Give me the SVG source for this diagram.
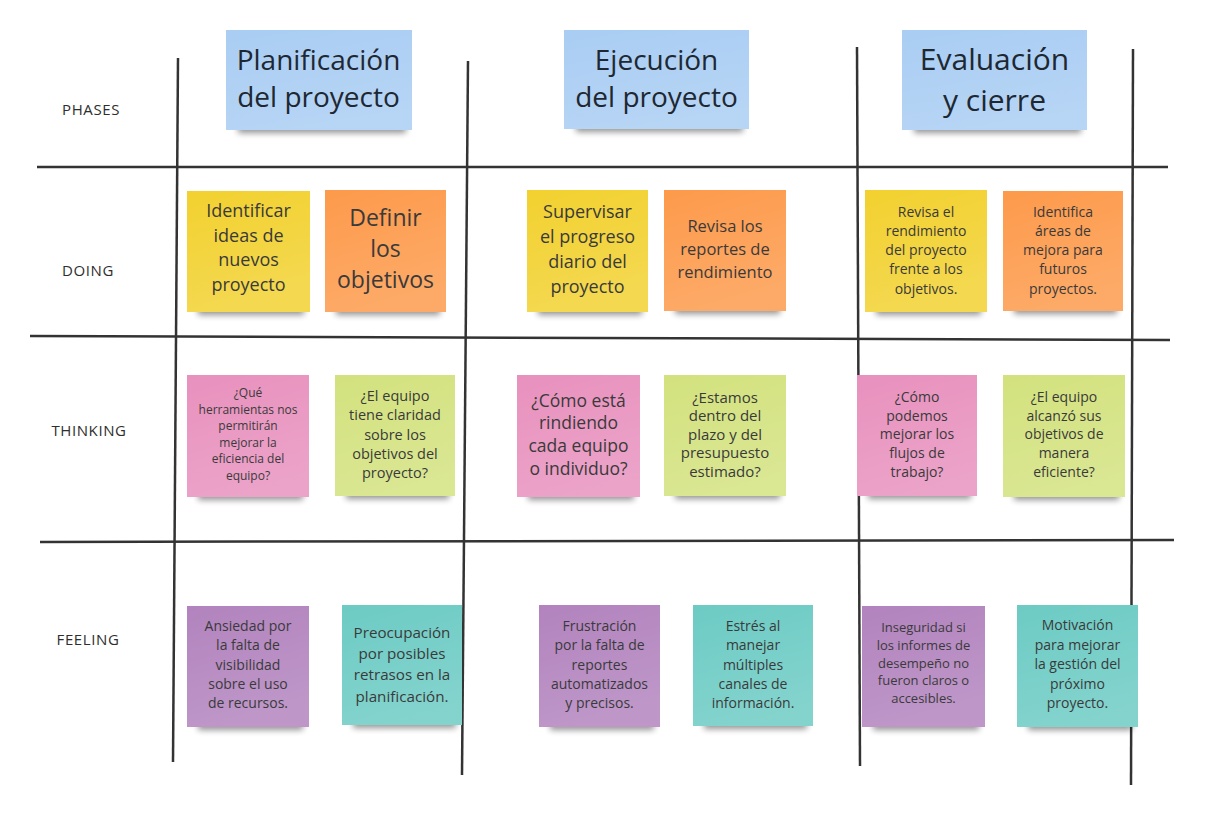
<svg xmlns="http://www.w3.org/2000/svg" width="1219" height="820" viewBox="0 0 1219 820">
  <defs>
    <filter id="soft" x="-20%" y="-100%" width="140%" height="300%">
      <feGaussianBlur stdDeviation="3"/>
    </filter>
    <linearGradient id="sheen" x1="0" y1="0" x2="0.3" y2="1">
      <stop offset="0" stop-color="#fff" stop-opacity="0"/>
      <stop offset="1" stop-color="#fff" stop-opacity="0.16"/>
    </linearGradient>
  </defs>
  <style>
    .grid { stroke: #333; stroke-width: 2.5; fill: none; stroke-linecap: butt; }
    .row { font-family: "Open Sans", "Liberation Sans", sans-serif; font-size: 15px; letter-spacing: 0.6px; fill: #2e2e2e; text-anchor: middle; }
    .shadow { fill: #000; opacity: 0.42; filter: url(#soft); }
    .sheen { fill: url(#sheen); }
    .txt { font-family: "Open Sans", "Liberation Sans", sans-serif; fill: #3a3a3a; text-anchor: middle; }
    .hdr { font-family: "Open Sans", "Liberation Sans", sans-serif; fill: #1e2832; text-anchor: middle; }
    .blue { fill: #a9cdf3; }
    .yellow { fill: #f2d12f; }
    .orange { fill: #fd9a4b; }
    .pink { fill: #e891be; }
    .green { fill: #d3e27e; }
    .purple { fill: #b283be; }
    .teal { fill: #6ccbc4; }
  </style>

  <rect width="1219" height="820" fill="#fff"/>

  <!-- board grid -->
  <g id="connectors">
    <line class="grid" x1="178" y1="58" x2="173" y2="762"/>
    <line class="grid" x1="468" y1="61" x2="462" y2="775"/>
    <line class="grid" x1="857" y1="47" x2="860" y2="766"/>
    <line class="grid" x1="1133" y1="49" x2="1131" y2="785"/>
    <line class="grid" x1="37" y1="167" x2="1168" y2="167"/>
    <line class="grid" x1="30" y1="336" x2="1170" y2="340"/>
    <line class="grid" x1="40" y1="542" x2="1174" y2="540"/>
  </g>

  <!-- row labels -->
  <g id="row-labels">
    <text class="row" x="91" y="115">PHASES</text>
    <text class="row" x="88" y="276">DOING</text>
    <text class="row" x="89" y="436">THINKING</text>
    <text class="row" x="88" y="645">FEELING</text>
  </g>

  <!-- phase headers -->
  <g id="hdr-planificacion">
    <rect class="shadow" x="238" y="122" width="168" height="11"/>
    <rect class="blue" x="226" y="30" width="186" height="100"/>
    <rect class="sheen" x="226" y="30" width="186" height="100"/>
    <text class="hdr" font-size="28"><tspan x="318.5" y="70">Planificación</tspan><tspan x="318.5" y="107">del proyecto</tspan></text>
  </g>
  <g id="hdr-ejecucion">
    <rect class="shadow" x="576" y="121" width="167" height="11"/>
    <rect class="blue" x="564" y="30" width="185" height="99"/>
    <rect class="sheen" x="564" y="30" width="185" height="99"/>
    <text class="hdr" font-size="28"><tspan x="656.5" y="70">Ejecución</tspan><tspan x="656.5" y="107">del proyecto</tspan></text>
  </g>
  <g id="hdr-evaluacion">
    <rect class="shadow" x="914" y="122" width="167" height="11"/>
    <rect class="blue" x="902" y="30" width="185" height="100"/>
    <rect class="sheen" x="902" y="30" width="185" height="100"/>
    <text class="hdr" font-size="30"><tspan x="994.5" y="69.5">Evaluación</tspan><tspan x="994.5" y="110.5">y cierre</tspan></text>
  </g>

  <!-- DOING row -->
  <g id="doing-1">
    <rect class="shadow" x="198" y="304" width="106" height="11"/>
    <rect class="yellow" x="187" y="191" width="123" height="121"/>
    <rect class="sheen" x="187" y="191" width="123" height="121"/>
    <text class="txt" font-size="18"><tspan x="248.5" y="217">Identificar</tspan><tspan x="248.5" y="241.7">ideas de</tspan><tspan x="248.5" y="266.4">nuevos</tspan><tspan x="248.5" y="291">proyecto</tspan></text>
  </g>
  <g id="doing-2">
    <rect class="shadow" x="336" y="304" width="104" height="11"/>
    <rect class="orange" x="325" y="190" width="121" height="122"/>
    <rect class="sheen" x="325" y="190" width="121" height="122"/>
    <text class="txt" font-size="23"><tspan x="385.5" y="226">Definir</tspan><tspan x="385.5" y="257">los</tspan><tspan x="385.5" y="288">objetivos</tspan></text>
  </g>
  <g id="doing-3">
    <rect class="shadow" x="538" y="304" width="104" height="11"/>
    <rect class="yellow" x="527" y="190" width="121" height="122"/>
    <rect class="sheen" x="527" y="190" width="121" height="122"/>
    <text class="txt" font-size="18"><tspan x="587.5" y="218">Supervisar</tspan><tspan x="587.5" y="243">el progreso</tspan><tspan x="587.5" y="268">diario del</tspan><tspan x="587.5" y="292.5">proyecto</tspan></text>
  </g>
  <g id="doing-4">
    <rect class="shadow" x="675" y="303" width="105" height="11"/>
    <rect class="orange" x="664" y="190" width="122" height="121"/>
    <rect class="sheen" x="664" y="190" width="122" height="121"/>
    <text class="txt" font-size="16.5"><tspan x="725" y="232">Revisa los</tspan><tspan x="725" y="255">reportes de</tspan><tspan x="725" y="278">rendimiento</tspan></text>
  </g>
  <g id="doing-5">
    <rect class="shadow" x="876" y="304" width="105" height="11"/>
    <rect class="yellow" x="865" y="190" width="122" height="122"/>
    <rect class="sheen" x="865" y="190" width="122" height="122"/>
    <text class="txt" font-size="14"><tspan x="926" y="216.5">Revisa el</tspan><tspan x="926" y="235.8">rendimiento</tspan><tspan x="926" y="255.1">del proyecto</tspan><tspan x="926" y="274.4">frente a los</tspan><tspan x="926" y="293.7">objetivos.</tspan></text>
  </g>
  <g id="doing-6">
    <rect class="shadow" x="1014" y="303" width="103" height="11"/>
    <rect class="orange" x="1003" y="191" width="120" height="120"/>
    <rect class="sheen" x="1003" y="191" width="120" height="120"/>
    <text class="txt" font-size="14"><tspan x="1063" y="216.5">Identifica</tspan><tspan x="1063" y="235.8">áreas de</tspan><tspan x="1063" y="255.1">mejora para</tspan><tspan x="1063" y="274.4">futuros</tspan><tspan x="1063" y="293.7">proyectos.</tspan></text>
  </g>

  <!-- THINKING row -->
  <g id="thinking-1">
    <rect class="shadow" x="198" y="489" width="105" height="11"/>
    <rect class="pink" x="187" y="375" width="122" height="122"/>
    <rect class="sheen" x="187" y="375" width="122" height="122"/>
    <text class="txt" font-size="12"><tspan x="248" y="397">¿Qué</tspan><tspan x="248" y="413.5">herramientas nos</tspan><tspan x="248" y="430">permitirán</tspan><tspan x="248" y="446.5">mejorar la</tspan><tspan x="248" y="463">eficiencia del</tspan><tspan x="248" y="479.5">equipo?</tspan></text>
  </g>
  <g id="thinking-2">
    <rect class="shadow" x="346" y="488" width="103" height="11"/>
    <rect class="green" x="335" y="375" width="120" height="121"/>
    <rect class="sheen" x="335" y="375" width="120" height="121"/>
    <text class="txt" font-size="14.5"><tspan x="395" y="401">¿El equipo</tspan><tspan x="395" y="420.3">tiene claridad</tspan><tspan x="395" y="439.6">sobre los</tspan><tspan x="395" y="458.9">objetivos del</tspan><tspan x="395" y="478.2">proyecto?</tspan></text>
  </g>
  <g id="thinking-3">
    <rect class="shadow" x="528" y="489" width="106" height="11"/>
    <rect class="pink" x="517" y="375" width="123" height="122"/>
    <rect class="sheen" x="517" y="375" width="123" height="122"/>
    <text class="txt" font-size="17.5"><tspan x="578.5" y="406.5">¿Cómo está</tspan><tspan x="578.5" y="429.3">rindiendo</tspan><tspan x="578.5" y="452.1">cada equipo</tspan><tspan x="578.5" y="475">o individuo?</tspan></text>
  </g>
  <g id="thinking-4">
    <rect class="shadow" x="675" y="488" width="105" height="11"/>
    <rect class="green" x="664" y="375" width="122" height="121"/>
    <rect class="sheen" x="664" y="375" width="122" height="121"/>
    <text class="txt" font-size="15"><tspan x="725" y="403">¿Estamos</tspan><tspan x="725" y="421.4">dentro del</tspan><tspan x="725" y="439.8">plazo y del</tspan><tspan x="725" y="458.2">presupuesto</tspan><tspan x="725" y="476.6">estimado?</tspan></text>
  </g>
  <g id="thinking-5">
    <rect class="shadow" x="868" y="488" width="103" height="11"/>
    <rect class="pink" x="857" y="375" width="120" height="121"/>
    <rect class="sheen" x="857" y="375" width="120" height="121"/>
    <text class="txt" font-size="14"><tspan x="917" y="401.7">¿Cómo</tspan><tspan x="917" y="420.5">podemos</tspan><tspan x="917" y="439.2">mejorar los</tspan><tspan x="917" y="458">flujos de</tspan><tspan x="917" y="476.7">trabajo?</tspan></text>
  </g>
  <g id="thinking-6">
    <rect class="shadow" x="1014" y="489" width="105" height="11"/>
    <rect class="green" x="1003" y="375" width="122" height="122"/>
    <rect class="sheen" x="1003" y="375" width="122" height="122"/>
    <text class="txt" font-size="14"><tspan x="1064" y="401.7">¿El equipo</tspan><tspan x="1064" y="420.5">alcanzó sus</tspan><tspan x="1064" y="439.2">objetivos de</tspan><tspan x="1064" y="458">manera</tspan><tspan x="1064" y="476.7">eficiente?</tspan></text>
  </g>

  <!-- FEELING row -->
  <g id="feeling-1">
    <rect class="shadow" x="198" y="719" width="105" height="11"/>
    <rect class="purple" x="187" y="606" width="122" height="121"/>
    <rect class="sheen" x="187" y="606" width="122" height="121"/>
    <text class="txt" font-size="14"><tspan x="248" y="631">Ansiedad por</tspan><tspan x="248" y="650.3">la falta de</tspan><tspan x="248" y="669.6">visibilidad</tspan><tspan x="248" y="688.9">sobre el uso</tspan><tspan x="248" y="708.2">de recursos.</tspan></text>
  </g>
  <g id="feeling-2">
    <rect class="shadow" x="353" y="717" width="103" height="11"/>
    <rect class="teal" x="342" y="605" width="120" height="120"/>
    <rect class="sheen" x="342" y="605" width="120" height="120"/>
    <text class="txt" font-size="15.2"><tspan x="402" y="638">Preocupación</tspan><tspan x="402" y="659.2">por posibles</tspan><tspan x="402" y="680.4">retrasos en la</tspan><tspan x="402" y="701.6">planificación.</tspan></text>
  </g>
  <g id="feeling-3">
    <rect class="shadow" x="550" y="719" width="104" height="11"/>
    <rect class="purple" x="539" y="605" width="121" height="122"/>
    <rect class="sheen" x="539" y="605" width="121" height="122"/>
    <text class="txt" font-size="14"><tspan x="599.5" y="631">Frustración</tspan><tspan x="599.5" y="650.3">por la falta de</tspan><tspan x="599.5" y="669.6">reportes</tspan><tspan x="599.5" y="688.9">automatizados</tspan><tspan x="599.5" y="708.2">y precisos.</tspan></text>
  </g>
  <g id="feeling-4">
    <rect class="shadow" x="704" y="718" width="103" height="11"/>
    <rect class="teal" x="693" y="605" width="120" height="121"/>
    <rect class="sheen" x="693" y="605" width="120" height="121"/>
    <text class="txt" font-size="14"><tspan x="753" y="631">Estrés al</tspan><tspan x="753" y="650.3">manejar</tspan><tspan x="753" y="669.6">múltiples</tspan><tspan x="753" y="688.9">canales de</tspan><tspan x="753" y="708.2">información.</tspan></text>
  </g>
  <g id="feeling-5">
    <rect class="shadow" x="873" y="719" width="106" height="11"/>
    <rect class="purple" x="862" y="606" width="123" height="121"/>
    <rect class="sheen" x="862" y="606" width="123" height="121"/>
    <text class="txt" font-size="13"><tspan x="923.5" y="631.7">Inseguridad si</tspan><tspan x="923.5" y="649.6">los informes de</tspan><tspan x="923.5" y="667.5">desempeño no</tspan><tspan x="923.5" y="685.4">fueron claros o</tspan><tspan x="923.5" y="703.3">accesibles.</tspan></text>
  </g>
  <g id="feeling-6">
    <rect class="shadow" x="1028" y="719" width="104" height="11"/>
    <rect class="teal" x="1017" y="605" width="121" height="122"/>
    <rect class="sheen" x="1017" y="605" width="121" height="122"/>
    <text class="txt" font-size="14"><tspan x="1077.5" y="630">Motivación</tspan><tspan x="1077.5" y="649.6">para mejorar</tspan><tspan x="1077.5" y="669.2">la gestión del</tspan><tspan x="1077.5" y="688.8">próximo</tspan><tspan x="1077.5" y="708.4">proyecto.</tspan></text>
  </g>
</svg>
